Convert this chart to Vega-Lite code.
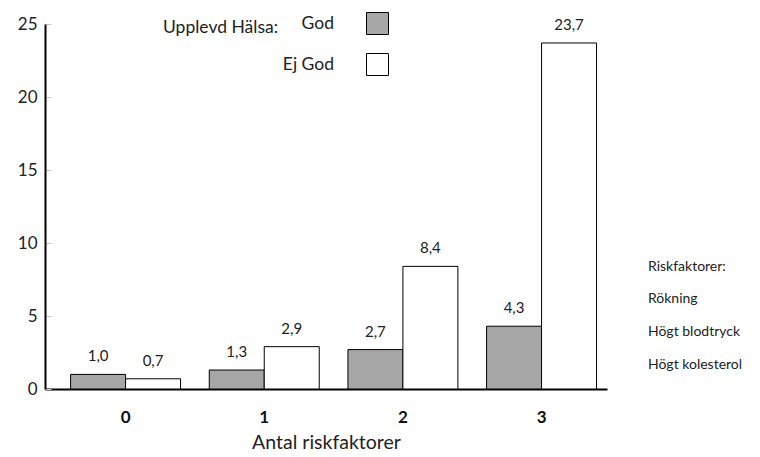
{
  "$schema": "https://vega.github.io/schema/vega-lite/v6.json",
  "width": 562,
  "height": 365,
  "autosize": {"type": "none"},
  "padding": {"left": 45, "top": 24, "right": 153, "bottom": 68},
  "config": {
    "font": "Lato",
    "view": {"stroke": null},
    "locale": {"number": {"decimal": ",", "thousands": " ", "grouping": [3], "currency": ["", " kr"]}},
    "text": {"color": "#222222"}
  },
  "datasets": {
    "bars": [
      {"antal": "0", "halsa": "God", "varde": 1.0},
      {"antal": "0", "halsa": "Ej God", "varde": 0.7},
      {"antal": "1", "halsa": "God", "varde": 1.3},
      {"antal": "1", "halsa": "Ej God", "varde": 2.9},
      {"antal": "2", "halsa": "God", "varde": 2.7},
      {"antal": "2", "halsa": "Ej God", "varde": 8.4},
      {"antal": "3", "halsa": "God", "varde": 4.3},
      {"antal": "3", "halsa": "Ej God", "varde": 23.7}
    ],
    "rf": [
      {"riskfaktor": "Rökning"},
      {"riskfaktor": "Högt blodtryck"},
      {"riskfaktor": "Högt kolesterol"}
    ]
  },
  "layer": [
    {
      "data": {"name": "bars"},
      "mark": {"type": "bar", "stroke": "black", "strokeWidth": 1},
      "encoding": {
        "x": {
          "field": "antal", "type": "ordinal",
          "scale": {"paddingInner": 0.207, "paddingOuter": 0.13, "align": 0.71},
          "axis": {
            "title": "Antal riskfaktorer", "labelAngle": 0, "ticks": false,
            "labelFontWeight": "bold", "labelFontSize": 17, "labelPadding": 20, "labelColor": "#111111",
            "titleFontSize": 19.5, "titleFontWeight": "normal", "titlePadding": 8, "titleColor": "#222222",
            "domainColor": "black", "domainWidth": 2
          }
        },
        "xOffset": {"field": "halsa", "type": "nominal", "scale": {"domain": ["God", "Ej God"], "paddingInner": 0}},
        "y": {
          "field": "varde", "type": "quantitative",
          "scale": {"domain": [0, 25], "nice": false},
          "axis": {
            "title": null, "grid": false,
            "values": [0, 2.5, 5, 7.5, 10, 12.5, 15, 17.5, 20, 22.5, 25],
            "labelExpr": "datum.value % 5 === 0 ? datum.label : ''",
            "labelFontSize": 17, "labelColor": "#222222", "labelPadding": 14,
            "tickColor": "#c8c8c8", "tickSize": -6,
            "domainColor": "black", "domainWidth": 2
          }
        },
        "fill": {
          "field": "halsa", "type": "nominal",
          "scale": {"domain": ["God", "Ej God"], "range": ["#a6a6a6", "#ffffff"]},
          "legend": {
            "orient": "none", "legendX": 118, "legendY": -12,
            "title": "Upplevd Hälsa:", "titleOrient": "left", "titleAngle": 0, "titleAnchor": "start", "titleBaseline": "line-top", "titleLineHeight": 32,
            "titleFontSize": 17.5, "titleFontWeight": "normal", "titleColor": "#222222", "titlePadding": 87,
            "labelFontSize": 17.5, "labelColor": "#222222", "labelAlign": "right", "labelOffset": -55,
            "symbolType": "square", "symbolSize": 484, "symbolStrokeColor": "black", "symbolStrokeWidth": 1,
            "rowPadding": 14
          }
        }
      }
    },
    {
      "data": {"name": "bars"},
      "mark": {"type": "text", "baseline": "bottom", "dy": -10, "fontSize": 15},
      "encoding": {
        "x": {"field": "antal", "type": "ordinal"},
        "xOffset": {"field": "halsa", "type": "nominal"},
        "y": {"field": "varde", "type": "quantitative", "scale": {"domain": [0, 25], "nice": false}},
        "text": {"field": "varde", "type": "quantitative", "format": ".1f"}
      }
    },
    {
      "data": {"name": "rf"},
      "mark": {"type": "point", "opacity": 0},
      "encoding": {
        "shape": {
          "field": "riskfaktor", "type": "nominal",
          "scale": {"domain": ["Rökning", "Högt blodtryck", "Högt kolesterol"]},
          "legend": {
            "orient": "none", "legendX": 603, "legendY": 236,
            "title": "Riskfaktorer:", "titleFontSize": 14, "titleFontWeight": "normal", "titleColor": "#222222", "titlePadding": 18,
            "labelFontSize": 14, "labelColor": "#222222", "labelOffset": -14,
            "symbolSize": 1, "symbolOpacity": 0, "symbolStrokeWidth": 0,
            "rowPadding": 19
          }
        }
      }
    }
  ]
}
